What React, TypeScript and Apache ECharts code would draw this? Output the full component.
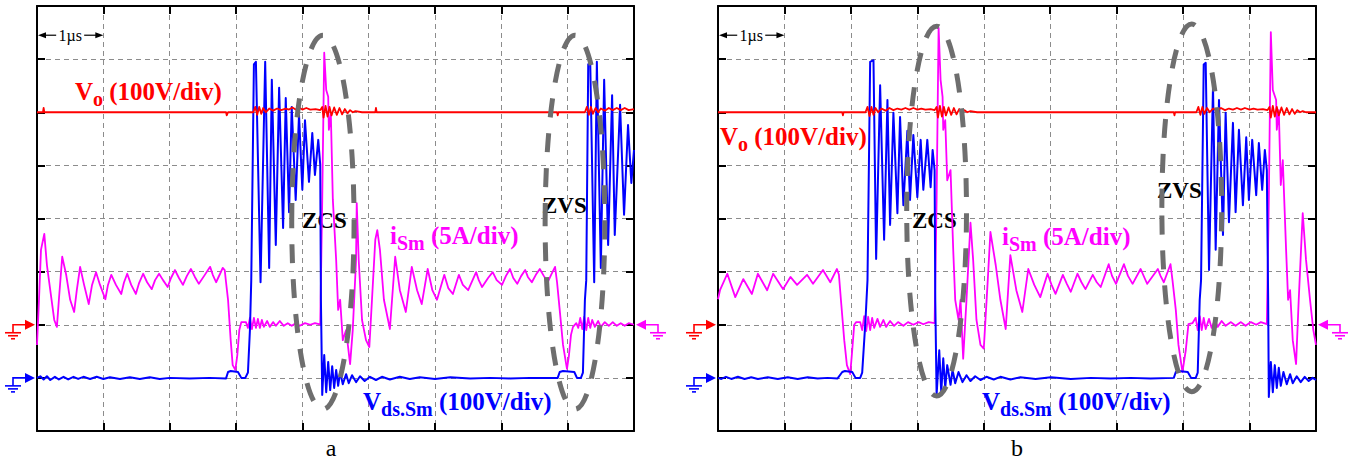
import React, { useEffect, useRef } from "react";
import * as echarts from "echarts";

// ---------- scope settings ----------
// x in µs (1 µs/div), y in screen divisions counted from the bottom edge
const X_MAX = 9;
const Y_MAX = 8;
const GND_VDS = 1; // blue ground marker level (div)
const GND_VO = 2; // red ground marker level (div)
const GND_IS = 2; // magenta ground marker level (div)

// ---------- panel a ----------
const VDS_A: [number, number][] = [
  [0, 1.0], [0.05, 1.03], [0.1, 0.97], [0.15, 1.03], [0.2, 0.96], [0.27, 1.02], [0.33, 0.97], [0.4, 1.02],
  [0.47, 0.97], [0.55, 1.02], [0.62, 0.98], [0.7, 1.02], [0.8, 0.98], [0.9, 1.02], [1.0, 0.98], [1.1, 1.01],
  [1.25, 0.98], [1.4, 1.01], [1.55, 0.98], [1.7, 1.01], [1.85, 0.98], [2.0, 1.0], [2.3, 0.99], [2.6, 1.0], [2.85, 0.99],
  [2.88, 1.11], [2.92, 1.13], [3.03, 1.11], [3.08, 1.0], [3.14, 1.0], [3.18, 1.1], [3.21, 1.9], [3.23, 2.84], [3.27, 6.9],
  [3.3, 6.95], [3.37, 2.8], [3.44, 6.95], [3.5, 3.07], [3.54, 6.61], [3.6, 3.5], [3.65, 6.46], [3.71, 3.82], [3.75, 6.27],
  [3.8, 4.12], [3.84, 6.1], [3.9, 4.35], [3.95, 5.95], [4.0, 4.54], [4.04, 5.85], [4.1, 4.69], [4.15, 5.61], [4.19, 4.82],
  [4.24, 5.48], [4.27, 5.01], [4.28, 2.47], [4.3, 0.68], [4.33, 1.43], [4.36, 0.73], [4.39, 1.3], [4.42, 0.77],
  [4.45, 1.22], [4.48, 0.81], [4.51, 1.15], [4.54, 0.85], [4.57, 1.11], [4.61, 0.88], [4.66, 1.07], [4.7, 0.9],
  [4.75, 1.05], [4.81, 0.92], [4.87, 1.03], [4.94, 0.94], [5.02, 1.02], [5.11, 0.96], [5.2, 1.02], [5.32, 0.97],
  [5.47, 1.02], [5.62, 0.98], [5.77, 1.01], [6.0, 0.98], [6.23, 1.01], [6.53, 0.99], [6.83, 1.0], [7.13, 0.99],
  [7.43, 1.0], [7.85, 1.0], [7.88, 1.11], [7.93, 1.13], [8.1, 1.11], [8.14, 1.0], [8.2, 1.0], [8.23, 1.1],
  [8.26, 2.47], [8.28, 2.84], [8.31, 6.9], [8.34, 6.95], [8.4, 2.8], [8.44, 6.95], [8.5, 3.07], [8.55, 6.61],
  [8.61, 3.5], [8.67, 6.32], [8.71, 3.69], [8.79, 6.14], [8.85, 4.07], [8.91, 5.76], [8.96, 4.67], [9.0, 5.29],
];

const IS_A: [number, number][] = [
  [0, 1.62], [0.03, 2.47], [0.06, 3.41], [0.11, 3.71], [0.15, 3.12], [0.2, 2.65], [0.26, 2.09], [0.3, 1.96],
  [0.33, 2.47], [0.38, 3.28], [0.44, 2.94], [0.5, 2.47], [0.56, 2.24], [0.6, 2.65], [0.65, 3.09], [0.71, 2.75],
  [0.78, 2.39], [0.83, 2.75], [0.89, 2.99], [0.95, 2.75], [1.03, 2.48], [1.07, 2.75], [1.12, 2.94], [1.19, 2.75],
  [1.27, 2.58], [1.31, 2.79], [1.36, 2.96], [1.42, 2.75], [1.49, 2.58], [1.54, 2.79], [1.6, 2.96], [1.66, 2.8],
  [1.73, 2.67], [1.78, 2.84], [1.84, 2.96], [1.9, 2.84], [1.97, 2.71], [2.02, 2.88], [2.08, 3.03], [2.14, 2.88],
  [2.2, 2.75], [2.26, 2.92], [2.32, 3.05], [2.38, 2.9], [2.44, 2.77], [2.52, 2.92], [2.61, 3.09], [2.65, 2.94],
  [2.7, 2.8], [2.76, 2.96], [2.8, 3.07], [2.83, 3.03], [2.85, 2.8], [2.88, 2.47], [2.92, 1.71], [2.95, 1.24],
  [2.99, 1.15], [3.02, 1.43], [3.05, 1.9], [3.08, 2.05], [3.15, 2.05], [3.18, 1.94], [3.21, 2.13], [3.24, 1.92],
  [3.27, 2.13], [3.3, 1.94], [3.33, 2.11], [3.36, 1.94], [3.39, 2.09], [3.42, 1.96], [3.47, 2.07], [3.51, 1.96],
  [3.56, 2.05], [3.6, 1.98], [3.66, 2.07], [3.72, 1.98], [3.78, 2.03], [3.84, 1.98], [3.9, 2.03], [3.96, 1.98],
  [4.04, 2.03], [4.12, 2.0], [4.19, 2.03], [4.25, 2.01], [4.27, 2.0], [4.3, 4.35], [4.33, 7.12], [4.36, 6.42],
  [4.39, 6.29], [4.4, 5.67], [4.43, 5.95], [4.46, 4.35], [4.51, 3.22], [4.54, 2.28], [4.57, 2.47], [4.61, 1.71],
  [4.66, 1.9], [4.72, 1.26], [4.76, 1.9], [4.81, 3.22], [4.82, 4.29], [4.85, 3.22], [4.9, 2.09], [4.96, 1.71],
  [5.01, 1.58], [5.05, 2.47], [5.1, 3.6], [5.13, 3.78], [5.17, 3.41], [5.23, 2.47], [5.32, 1.92], [5.4, 3.28],
  [5.47, 2.65], [5.56, 2.24], [5.65, 3.09], [5.73, 2.65], [5.8, 2.39], [5.89, 3.05], [5.96, 2.65], [6.03, 2.47],
  [6.14, 2.94], [6.2, 2.69], [6.27, 2.58], [6.36, 2.94], [6.42, 2.75], [6.5, 2.65], [6.62, 2.99], [6.66, 2.84],
  [6.71, 2.71], [6.8, 2.88], [6.87, 2.99], [6.93, 2.84], [7.01, 2.75], [7.07, 2.92], [7.13, 3.05], [7.18, 2.88],
  [7.24, 2.77], [7.3, 2.92], [7.36, 3.03], [7.4, 2.9], [7.46, 2.8], [7.52, 2.94], [7.58, 3.05], [7.64, 2.92],
  [7.7, 2.8], [7.75, 2.94], [7.81, 3.09], [7.84, 2.8], [7.88, 2.28], [7.93, 1.62], [7.98, 1.24], [7.99, 1.17],
  [8.02, 1.43], [8.05, 1.81], [8.08, 1.96], [8.13, 2.03], [8.16, 1.94], [8.19, 2.13], [8.22, 1.92], [8.25, 2.15],
  [8.28, 1.9], [8.31, 2.13], [8.34, 1.94], [8.37, 2.09], [8.41, 1.96], [8.46, 2.07], [8.5, 1.96], [8.56, 2.05],
  [8.62, 1.98], [8.68, 2.05], [8.74, 1.98], [8.8, 2.03], [8.86, 1.98], [8.92, 2.03], [9.0, 2.0],
];

const VO_A: [number, number][] = [
  [0, 6], [0.09, 6], [0.1, 6.08], [0.11, 6], [2.85, 6], [2.86, 5.94], [2.88, 6], [3.26, 6], [3.29, 6.1],
  [3.32, 5.95], [3.35, 6.1], [3.38, 5.97], [3.41, 6.08], [3.45, 6.0], [3.5, 6.07], [3.56, 6.03], [3.62, 6.07],
  [3.68, 6.04], [3.75, 6.07], [3.8, 6.05], [3.85, 6.09], [3.9, 6.05], [3.95, 6.09], [4.0, 6.05], [4.06, 6.08],
  [4.12, 6.05], [4.2, 6.06], [4.27, 6.04], [4.3, 6.1], [4.32, 5.9], [4.35, 6.12], [4.38, 5.92], [4.41, 6.1],
  [4.44, 5.94], [4.48, 6.09], [4.52, 5.95], [4.56, 6.08], [4.6, 5.96], [4.64, 6.06], [4.68, 5.98], [4.72, 6.04],
  [4.76, 6.0], [4.8, 6.02], [4.9, 6.0], [5.1, 6.0], [5.11, 6.08], [5.12, 6.0], [7.84, 6], [7.85, 5.94], [7.86, 6],
  [8.26, 6], [8.29, 6.1], [8.32, 5.95], [8.35, 6.1], [8.38, 5.97], [8.42, 6.08], [8.46, 6.0], [8.5, 6.07],
  [8.56, 6.03], [8.62, 6.08], [8.68, 6.04], [8.74, 6.08], [8.8, 6.04], [8.86, 6.08], [8.92, 6.04], [9, 6.06],
];

// ---------- panel b ----------
const VDS_B: [number, number][] = [
  [0, 1.0], [0.05, 0.98], [0.12, 1.02], [0.2, 0.98], [0.3, 1.02], [0.4, 0.98], [0.5, 1.01], [0.6, 0.98],
  [0.75, 1.01], [0.9, 0.98], [1.05, 1.01], [1.2, 0.98], [1.35, 1.01], [1.5, 0.99], [1.65, 1.0], [1.8, 0.99],
  [1.87, 1.11], [1.91, 1.13], [2.02, 1.11], [2.07, 1.0], [2.14, 1.0], [2.17, 1.1], [2.22, 2.09], [2.25, 2.84],
  [2.29, 6.95], [2.34, 6.98], [2.38, 3.24], [2.44, 6.51], [2.5, 3.6], [2.55, 6.23], [2.59, 3.88], [2.64, 5.99],
  [2.7, 4.1], [2.74, 5.91], [2.79, 4.25], [2.85, 5.65], [2.89, 4.35], [2.94, 5.57], [3.0, 4.4], [3.05, 5.48],
  [3.09, 4.54], [3.15, 5.48], [3.2, 4.59], [3.23, 5.29], [3.26, 4.91], [3.27, 2.47], [3.29, 0.68], [3.33, 1.52],
  [3.36, 0.73], [3.39, 1.37], [3.42, 0.81], [3.45, 1.24], [3.5, 0.87], [3.53, 1.15], [3.57, 0.9], [3.62, 1.11],
  [3.68, 0.92], [3.74, 1.05], [3.8, 0.94], [3.87, 1.03], [3.95, 0.96], [4.04, 1.02], [4.15, 0.97], [4.25, 1.02],
  [4.4, 0.97], [4.55, 1.01], [4.78, 0.98], [5.01, 1.01], [5.31, 0.98], [5.61, 1.0], [5.91, 0.99], [6.21, 1.0],
  [6.51, 0.99], [6.86, 1.0], [6.89, 1.11], [6.93, 1.13], [7.07, 1.11], [7.12, 1.0], [7.19, 1.0], [7.22, 1.1],
  [7.25, 2.47], [7.27, 2.84], [7.31, 6.9], [7.34, 6.93], [7.39, 3.03], [7.45, 6.48], [7.49, 3.41], [7.54, 6.23],
  [7.6, 3.69], [7.64, 5.99], [7.69, 3.93], [7.75, 5.8], [7.79, 4.12], [7.84, 5.67], [7.9, 4.25], [7.95, 5.53],
  [7.99, 4.35], [8.04, 5.48], [8.1, 4.44], [8.14, 5.42], [8.19, 4.54], [8.23, 5.29], [8.26, 4.91], [8.28, 2.47],
  [8.29, 0.64], [8.32, 1.3], [8.35, 0.73], [8.38, 1.24], [8.41, 0.81], [8.44, 1.19], [8.47, 0.85], [8.51, 1.11],
  [8.56, 0.88], [8.61, 1.07], [8.65, 0.9], [8.71, 1.03], [8.77, 0.92], [8.83, 1.02], [8.89, 0.94], [8.95, 1.0],
  [9.0, 0.96],
];

const IS_B: [number, number][] = [
  [0, 2.48], [0.03, 2.65], [0.14, 2.96], [0.26, 2.52], [0.38, 2.86], [0.51, 2.58], [0.6, 2.96], [0.74, 2.65],
  [0.83, 2.96], [0.98, 2.67], [1.09, 2.9], [1.19, 2.75], [1.34, 2.94], [1.43, 2.77], [1.58, 3.03], [1.69, 2.8],
  [1.79, 3.05], [1.82, 2.94], [1.85, 2.47], [1.9, 1.71], [1.94, 1.24], [1.99, 1.07], [2.02, 1.52], [2.05, 2.0],
  [2.08, 2.05], [2.14, 2.05], [2.17, 1.9], [2.2, 2.16], [2.23, 1.88], [2.26, 2.15], [2.29, 1.9], [2.32, 2.13],
  [2.35, 1.94], [2.4, 2.11], [2.44, 1.96], [2.49, 2.09], [2.53, 1.96], [2.59, 2.07], [2.65, 1.98], [2.71, 2.05],
  [2.79, 1.98], [2.86, 2.05], [2.94, 2.0], [3.02, 2.05], [3.09, 2.01], [3.17, 2.05], [3.26, 2.03], [3.29, 4.35],
  [3.32, 7.59], [3.35, 6.61], [3.38, 6.29], [3.39, 5.67], [3.42, 5.85], [3.45, 4.72], [3.5, 4.91], [3.54, 3.41],
  [3.57, 2.47], [3.62, 2.09], [3.65, 2.47], [3.69, 1.36], [3.74, 2.47], [3.8, 3.92], [3.84, 3.22], [3.89, 2.09],
  [3.95, 1.62], [4.0, 1.55], [4.06, 2.84], [4.1, 3.75], [4.18, 3.12], [4.25, 2.47], [4.33, 1.92], [4.4, 3.31],
  [4.49, 2.65], [4.58, 2.24], [4.67, 3.05], [4.76, 2.75], [4.85, 2.52], [4.96, 2.96], [5.02, 2.75], [5.08, 2.58],
  [5.19, 2.94], [5.25, 2.77], [5.31, 2.62], [5.41, 2.96], [5.47, 2.8], [5.53, 2.67], [5.64, 2.94], [5.7, 2.8],
  [5.76, 2.71], [5.88, 3.14], [5.93, 2.92], [5.99, 2.77], [6.11, 3.14], [6.17, 2.92], [6.24, 2.77], [6.36, 3.05],
  [6.42, 2.88], [6.46, 2.77], [6.62, 3.05], [6.66, 2.92], [6.71, 2.8], [6.81, 3.14], [6.84, 2.84], [6.89, 2.28],
  [6.93, 1.62], [6.99, 1.11], [7.04, 1.52], [7.08, 2.01], [7.14, 2.03], [7.19, 2.13], [7.22, 1.9], [7.25, 2.16],
  [7.28, 1.9], [7.31, 2.13], [7.34, 1.92], [7.39, 2.11], [7.43, 1.94], [7.48, 2.09], [7.52, 1.96], [7.58, 2.07],
  [7.64, 1.98], [7.72, 2.05], [7.79, 1.98], [7.87, 2.05], [7.94, 1.98], [8.02, 2.05], [8.1, 2.0], [8.17, 2.05],
  [8.26, 2.01], [8.29, 4.35], [8.32, 7.51], [8.35, 6.42], [8.4, 6.23], [8.41, 5.67], [8.44, 6.04], [8.47, 4.63],
  [8.5, 5.1], [8.55, 3.41], [8.58, 2.47], [8.61, 2.65], [8.65, 1.71], [8.7, 1.26], [8.74, 2.47], [8.8, 4.1],
  [8.85, 3.22], [8.91, 2.47], [8.96, 1.9], [9.0, 1.62],
];

const VO_B: [number, number][] = [
  [0, 6], [1.87, 6], [1.88, 5.94], [1.89, 6], [2.22, 6], [2.25, 6.1], [2.28, 5.93], [2.31, 6.1], [2.34, 5.95],
  [2.37, 6.08], [2.41, 6.0], [2.46, 6.07], [2.52, 6.03], [2.58, 6.08], [2.64, 6.04], [2.7, 6.07], [2.76, 6.05],
  [2.82, 6.08], [2.88, 6.05], [2.94, 6.08], [3.0, 6.05], [3.06, 6.07], [3.12, 6.05], [3.2, 6.06], [3.26, 6.04],
  [3.29, 6.1], [3.31, 5.9], [3.34, 6.12], [3.37, 5.92], [3.4, 6.1], [3.43, 5.94], [3.47, 6.09], [3.51, 5.95],
  [3.55, 6.08], [3.59, 5.96], [3.63, 6.06], [3.67, 5.98], [3.71, 6.04], [3.75, 6.0], [3.8, 6.02], [3.9, 6.0],
  [6.86, 6], [6.87, 5.94], [6.88, 6], [7.2, 6], [7.23, 6.1], [7.26, 5.95], [7.29, 6.1], [7.32, 5.97],
  [7.36, 6.08], [7.4, 6.0], [7.45, 6.07], [7.51, 6.03], [7.57, 6.08], [7.63, 6.04], [7.69, 6.07], [7.75, 6.05],
  [7.81, 6.08], [7.87, 6.05], [7.93, 6.08], [8.0, 6.05], [8.06, 6.07], [8.12, 6.05], [8.2, 6.06], [8.27, 6.04],
  [8.3, 6.1], [8.32, 5.9], [8.35, 6.12], [8.38, 5.92], [8.41, 6.1], [8.44, 5.94], [8.48, 6.09], [8.52, 5.95],
  [8.56, 6.08], [8.6, 5.96], [8.64, 6.06], [8.68, 5.97], [8.72, 6.04], [8.76, 6.0], [8.8, 6.02], [8.85, 6.0], [9, 6],
];

// dashed ellipses: [centre t, centre div, half-width µs, half-height div]
const ELL_A: number[][] = [[4.31, 3.93, 0.47, 3.52], [8.11, 3.93, 0.45, 3.52]];
const ELL_B: number[][] = [[3.29, 4.14, 0.45, 3.48], [7.13, 4.2, 0.45, 3.46]];

const PANEL_NAMES = ["a", "b"];
const SWITCH_LABELS = ["ZCS", "ZVS"];

// ---------- styles ----------
const FONT = "'Liberation Serif', 'Times New Roman', Times, serif";
const C_VO = "#ff0000";
const C_IS = "#ff00ff";
const C_VDS = "#0000ff";
const C_ELL = "#6e6e6e";
const C_GRID = "#8c8c8c";

const GRIDS = [
  { left: 37, top: 6, width: 597, height: 425 },
  { left: 718, top: 6, width: 598, height: 425 },
];

function mkAxis(gridIndex: number, position: string, max: number, split: boolean) {
  return {
    type: "value",
    gridIndex,
    position,
    min: 0,
    max,
    interval: 1,
    axisLine: { show: true, onZero: false, lineStyle: { color: "#000", width: 2 } },
    axisTick: { show: true, inside: true, length: 8, lineStyle: { color: "#000", width: 2 } },
    axisLabel: { show: false },
    splitLine: { show: split, lineStyle: { color: C_GRID, width: 1, type: [5, 4] } },
  };
}

function lineSeries(data: [number, number][], color: string, idx: number, width: number, z: number) {
  return {
    type: "line",
    xAxisIndex: idx * 2,
    yAxisIndex: idx * 2,
    data,
    showSymbol: false,
    symbol: "none",
    smooth: false,
    z,
    lineStyle: { color, width, join: "round" },
    silent: true,
  };
}

function ellipseSeries(data: number[][], idx: number) {
  return {
    type: "custom",
    xAxisIndex: idx * 2,
    yAxisIndex: idx * 2,
    data,
    clip: false,
    z: 10,
    silent: true,
    encode: { x: 0, y: 1 },
    renderItem: (_params: any, api: any) => {
      const c = api.coord([api.value(0), api.value(1)]);
      const s = api.size([api.value(2), api.value(3)]);
      return {
        type: "ellipse",
        shape: { cx: c[0], cy: c[1], rx: s[0], ry: s[1] },
        style: { fill: "none", stroke: C_ELL, lineWidth: 5, lineDash: [19, 16] },
      };
    },
  };
}

function richLabel(x: number, baseline: number, main: string, sub: string, tail: string, color: string) {
  return {
    type: "text",
    x,
    y: baseline - 25.4,
    z: 3,
    silent: true,
    style: {
      text: `{m|${main}}{s|${sub}}{m| ${tail}}`,
      align: "left",
      verticalAlign: "top",
      rich: {
        m: { fontFamily: FONT, fontSize: 25, fontWeight: "bold", fill: color, lineHeight: 34 },
        s: { fontFamily: FONT, fontSize: 20, fontWeight: "bold", fill: color, verticalAlign: "bottom" },
      },
    },
  };
}

function plainText(x: number, y: number, text: string, size: number, bold: boolean, align = "left") {
  return {
    type: "text",
    x,
    y,
    z: 3,
    silent: true,
    style: {
      text,
      fontFamily: FONT,
      fontSize: size,
      fontWeight: bold ? "bold" : "normal",
      fill: "#000",
      align,
      verticalAlign: "middle",
    },
  };
}

function groundMarker(tx: number, ty: number, dir: number, color: string) {
  const b = tx - dir * 10;
  const gx = tx - dir * 22;
  const st = { stroke: color, lineWidth: 1.6, fill: "none" };
  return [
    { type: "polygon", z: 5, silent: true, shape: { points: [[tx, ty], [b, ty - 5], [b, ty + 5]] }, style: { fill: color } },
    { type: "polyline", z: 5, silent: true, shape: { points: [[b, ty], [gx, ty], [gx, ty + 8]] }, style: st },
    { type: "line", z: 5, silent: true, shape: { x1: gx - 8, y1: ty + 8, x2: gx + 8, y2: ty + 8 }, style: st },
    { type: "line", z: 5, silent: true, shape: { x1: gx - 5, y1: ty + 11, x2: gx + 5, y2: ty + 11 }, style: st },
    { type: "line", z: 5, silent: true, shape: { x1: gx - 2, y1: ty + 14, x2: gx + 2, y2: ty + 14 }, style: st },
  ];
}

function timeArrow(x0: number, x1: number, y: number) {
  const mid = (x0 + x1) / 2;
  const st = { stroke: "#000", lineWidth: 1.2, fill: "none" };
  return [
    { type: "line", z: 5, silent: true, shape: { x1: x0 + 6, y1: y, x2: mid - 14, y2: y }, style: st },
    { type: "line", z: 5, silent: true, shape: { x1: mid + 14, y1: y, x2: x1 - 6, y2: y }, style: st },
    { type: "polygon", z: 5, silent: true, shape: { points: [[x0 + 1, y], [x0 + 9, y - 3], [x0 + 9, y + 3]] }, style: { fill: "#000" } },
    { type: "polygon", z: 5, silent: true, shape: { points: [[x1, y], [x1 - 8, y - 3], [x1 - 8, y + 3]] }, style: { fill: "#000" } },
    {
      type: "text", z: 5, silent: true, x: mid, y,
      style: { text: "1\u00b5s", fontFamily: FONT, fontSize: 16, fill: "#000", align: "center", verticalAlign: "middle" },
    },
  ];
}

export default function App() {
  const ref = useRef<HTMLDivElement>(null);

  useEffect(() => {
    if (!ref.current) return;
    const chart = echarts.init(ref.current, undefined, { renderer: "svg" });

    const xAxis: any[] = [];
    const yAxis: any[] = [];
    GRIDS.forEach((_g, i) => {
      xAxis.push(mkAxis(i, "bottom", X_MAX, true), mkAxis(i, "top", X_MAX, false));
      yAxis.push(mkAxis(i, "left", Y_MAX, true), mkAxis(i, "right", Y_MAX, false));
    });

    const panels = [
      { vo: VO_A, is: IS_A, vds: VDS_A, ell: ELL_A },
      { vo: VO_B, is: IS_B, vds: VDS_B, ell: ELL_B },
    ];
    const series: any[] = [];
    panels.forEach((p, i) => {
      series.push(lineSeries(p.is, C_IS, i, 1.8, 4));
      series.push(lineSeries(p.vds, C_VDS, i, 2, 5));
      series.push(lineSeries(p.vo, C_VO, i, 1.8, 6));
      series.push(ellipseSeries(p.ell, i));
    });

    chart.setOption({
      animation: false,
      backgroundColor: "#fff",
      grid: GRIDS.map((g) => ({ ...g, containLabel: false, show: false })),
      xAxis,
      yAxis,
      series,
    });

    const px = (i: number, t: number, v: number) =>
      chart.convertToPixel({ xAxisIndex: i * 2, yAxisIndex: i * 2 }, [t, v]) as number[];

    const els: any[] = [];
    GRIDS.forEach((g, i) => {
      const yVo = px(i, 0, GND_VO)[1];
      const yVds = px(i, 0, GND_VDS)[1];
      const yIs = px(i, 0, GND_IS)[1];
      els.push(...groundMarker(g.left - 2, yVo, 1, C_VO));
      els.push(...groundMarker(g.left - 2, yVds, 1, C_VDS));
      els.push(...groundMarker(g.left + g.width + 2, yIs, -1, C_IS));
      const a0 = px(i, 0, 7.45);
      const a1 = px(i, 1, 7.45);
      els.push(...timeArrow(a0[0], a1[0], a0[1]));
    });

    // channel labels (left x, baseline y)
    els.push(richLabel(75, 100, "V", "o", "(100V/div)", C_VO));
    els.push(richLabel(720, 145, "V", "o", "(100V/div)", C_VO));
    els.push(richLabel(390, 244, "i", "Sm", "(5A/div)", C_IS));
    els.push(richLabel(1002, 245, "i", "Sm", "(5A/div)", C_IS));
    els.push(richLabel(363, 410, "V", "ds.Sm", "(100V/div)", C_VDS));
    els.push(richLabel(982, 410, "V", "ds.Sm", "(100V/div)", C_VDS));

    els.push(plainText(302, 220, SWITCH_LABELS[0], 23, true));
    els.push(plainText(542, 205, SWITCH_LABELS[1], 23, true));
    els.push(plainText(912, 220, SWITCH_LABELS[0], 23, true));
    els.push(plainText(1157, 190, SWITCH_LABELS[1], 23, true));

    els.push(plainText(331, 448, PANEL_NAMES[0], 24, false, "center"));
    els.push(plainText(1017, 448, PANEL_NAMES[1], 24, false, "center"));

    chart.setOption({ graphic: { elements: els } });

    return () => chart.dispose();
  }, []);

  return (
    <div
      ref={ref}
      style={{ position: "absolute", left: 0, top: 0, width: 1360, height: 464, background: "#fff" }}
    />
  );
}
